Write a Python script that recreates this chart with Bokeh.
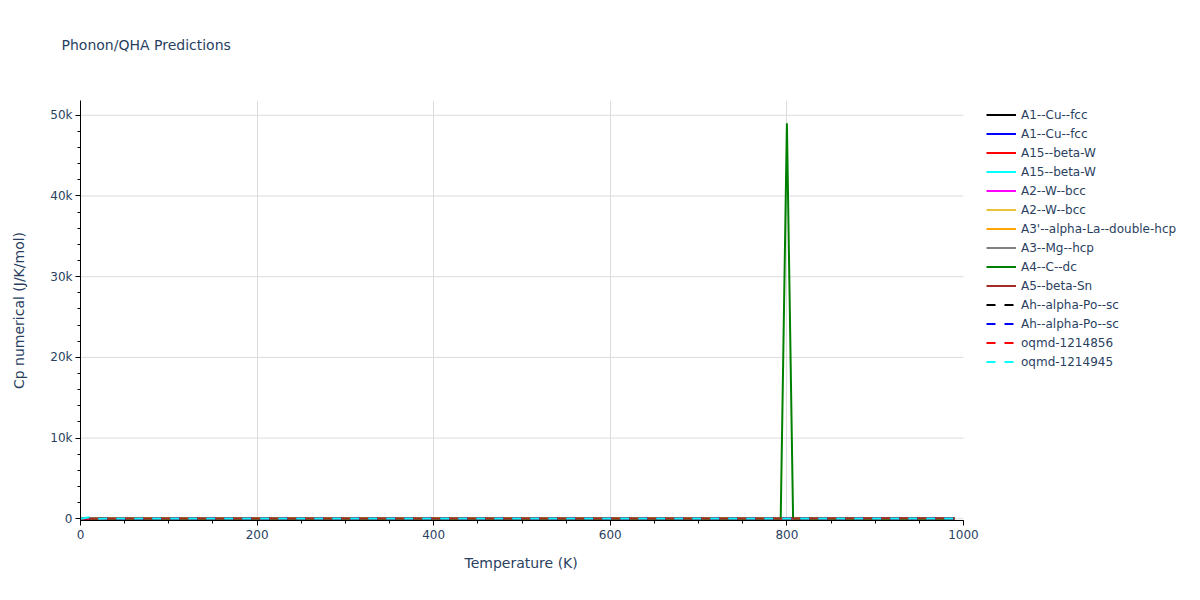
from bokeh.plotting import figure
from bokeh.models import FixedTicker, Legend, LegendItem, Range1d, Title
from bokeh.embed import file_html
from bokeh.resources import INLINE

# ---------------- data ----------------
temperature = [0, 10, 20, 50, 100, 200, 300, 400, 500, 600, 700, 793, 800, 807, 900, 990]

series_names = [
    "A1--Cu--fcc", "A1--Cu--fcc", "A15--beta-W", "A15--beta-W",
    "A2--W--bcc", "A2--W--bcc", "A3'--alpha-La--double-hcp", "A3--Mg--hcp",
    "A4--C--dc", "A5--beta-Sn", "Ah--alpha-Po--sc", "Ah--alpha-Po--sc",
    "oqmd-1214856", "oqmd-1214945",
]
series_colors = [
    "black", "blue", "red", "cyan", "magenta", "#E8C23A", "orange", "gray",
    "green", "brown", "black", "blue", "red", "cyan",
]
series_dash = ["solid"] * 10 + ["9 9"] * 4

cp_a1_cu_1 = [0, 0.5, 3.0, 15.0, 20.5, 23.9, 24.6, 25.0, 25.3, 25.6, 25.9, 26.1, 26.2, 26.2, 26.4, 26.7]
cp_a1_cu_2 = [0, 0.6, 3.2, 15.3, 20.7, 24.0, 24.7, 25.1, 25.4, 25.7, 26.0, 26.2, 26.3, 26.3, 26.5, 26.8]
cp_a15_w_1 = [0, 1.0, 7.5, 45.0, 80.0, 95.0, 98.0, 99.0, 100.0, 100.5, 101.0, 101.5, 101.5, 101.5, 102.0, 102.5]
cp_a15_w_2 = [0, 1.1, 7.8, 45.5, 80.5, 95.3, 98.3, 99.3, 100.2, 100.7, 101.2, 101.6, 101.7, 101.7, 102.2, 102.7]
cp_a2_w_1 = [0, 0.3, 2.0, 11.0, 19.5, 23.8, 24.6, 25.0, 25.3, 25.6, 25.9, 26.1, 26.2, 26.2, 26.4, 26.6]
cp_a2_w_2 = [0, 0.3, 2.1, 11.2, 19.6, 23.9, 24.7, 25.1, 25.4, 25.7, 26.0, 26.2, 26.3, 26.3, 26.5, 26.7]
cp_a3p_la = [0, 8.0, 35.0, 85.0, 97.0, 100.0, 101.0, 102.0, 102.5, 103.0, 103.5, 104.0, 104.0, 104.0, 104.5, 105.0]
cp_a3_mg = [0, 0.4, 3.5, 24.0, 40.0, 47.5, 49.0, 50.0, 50.6, 51.2, 51.7, 52.1, 52.2, 52.2, 52.6, 53.0]
cp_a4_c = [0, 0.0, 0.0, 0.1, 0.5, 4.0, 9.0, 13.0, 16.0, 18.0, 19.5, 20.3, 49000.0, 20.8, 21.5, 22.0]
cp_a5_sn = [0, 3.0, 16.0, 42.0, 48.0, 50.0, 50.8, 51.3, 51.8, 52.2, 52.6, 53.0, 53.0, 53.0, 53.4, 53.8]
cp_ah_po_1 = [0, 2.0, 9.0, 20.0, 23.5, 24.7, 25.0, 25.3, 25.6, 25.9, 26.1, 26.3, 26.3, 26.3, 26.5, 26.7]
cp_ah_po_2 = [0, 2.1, 9.2, 20.2, 23.6, 24.8, 25.1, 25.4, 25.7, 26.0, 26.2, 26.4, 26.4, 26.4, 26.6, 26.8]
cp_oqmd_1214856 = [0, 1.5, 10.0, 35.0, 45.0, 48.0, 49.5, 50.3, 50.8, 51.2, 51.5, 51.8, 51.8, 51.9, 52.1, 52.4]
cp_oqmd_1214945 = [0, 200.0, 20.0, 36.0, 45.5, 48.5, 49.8, 50.5, 51.0, 51.4, 51.8, 52.0, 52.0, 52.1, 52.3, 52.6]

series_values = [
    cp_a1_cu_1, cp_a1_cu_2, cp_a15_w_1, cp_a15_w_2, cp_a2_w_1, cp_a2_w_2,
    cp_a3p_la, cp_a3_mg, cp_a4_c, cp_a5_sn, cp_ah_po_1, cp_ah_po_2,
    cp_oqmd_1214856, cp_oqmd_1214945,
]

x_major = [0, 200, 400, 600, 800, 1000]
x_minor = list(range(0, 1001, 50))
y_major = [0, 10000, 20000, 30000, 40000, 50000]
y_minor = list(range(0, 51001, 2000))
y_labels = {0: "0", 10000: "10k", 20000: "20k", 30000: "30k", 40000: "40k", 50000: "50k"}
x_title = "Temperature (K)"
y_title = "Cp numerical (J/K/mol)"
chart_title = "Phonon/QHA Predictions"

# ---------------- layout constants ----------------
FONT = "DejaVu Sans"
TXT = "#2a3f5f"
W, H = 1192, 592
LEFT, TOP, BOTTOM = 80, 100, 72
PLOT_W = 883                      # width of the axis area (0..1000 K)
X_LO, X_HI = 0, 1000
Y_LO, Y_HI = -210, 51830
FRAME_W = W - LEFT                # frame extends to the right so the legend fits inside it
X_VIEW_HI = X_LO + (X_HI - X_LO) * FRAME_W / PLOT_W

p = figure(
    width=W, height=H, output_backend="svg", toolbar_location=None,
    x_range=Range1d(X_LO, X_VIEW_HI), y_range=Range1d(Y_LO, Y_HI),
    min_border_left=LEFT, min_border_right=0, min_border_top=TOP, min_border_bottom=BOTTOM,
)
p.outline_line_color = None
p.background_fill_color = "white"
p.border_fill_color = "white"

# spacer between the frame and the chart title, then the title itself
title_gap = Title(text=" ", standoff=30, text_font=FONT, text_font_size="14px",
                  text_color=TXT)
p.add_layout(title_gap, "above")
main_title = Title(text=chart_title, align="left", offset=-19, standoff=0,
                   vertical_align="bottom", text_font=FONT, text_font_size="14px",
                   text_font_style="normal", text_color=TXT)
p.add_layout(main_title, "above")

# grid lines, limited to the axis area
p.xgrid[0].ticker = FixedTicker(ticks=x_major[:-1])
p.xgrid[0].grid_line_color = "#dcdcdc"
p.xgrid[0].grid_line_width = 1
p.ygrid[0].grid_line_color = None
p.segment(x0=[X_LO] * len(y_major), x1=[X_HI] * len(y_major), y0=y_major, y1=y_major,
          line_color="#dcdcdc", line_width=1)

items = []
for name, color, dash, vals in zip(series_names, series_colors, series_dash, series_values):
    r = p.line(temperature, vals, line_color=color, line_width=2, line_dash=dash)
    items.append(LegendItem(label=name, renderers=[r]))

legend = Legend(items=items, location=(906, 149))
legend.padding = 0
legend.margin = 0
legend.spacing = 0
legend.label_height = 19
legend.glyph_height = 19
legend.glyph_width = 30
legend.label_standoff = 5
legend.label_text_font = FONT
legend.label_text_font_size = "12px"
legend.label_text_color = TXT
legend.border_line_color = None
legend.background_fill_alpha = 0
p.add_layout(legend, "center")

for ax in (p.xaxis[0], p.yaxis[0]):
    ax.axis_line_color = "black"
    ax.axis_line_width = 1
    ax.major_tick_line_color = "black"
    ax.minor_tick_line_color = "black"
    ax.major_tick_out = 5
    ax.major_tick_in = 0
    ax.minor_tick_out = 3
    ax.minor_tick_in = 0
    ax.major_label_text_font = FONT
    ax.major_label_text_font_size = "12px"
    ax.major_label_text_color = TXT
    ax.axis_label_text_font = FONT
    ax.axis_label_text_font_size = "14px"
    ax.axis_label_text_font_style = "normal"
    ax.axis_label_text_color = TXT

p.xaxis[0].ticker = FixedTicker(ticks=x_major, minor_ticks=x_minor)
p.xaxis[0].bounds = (X_LO, X_HI)
p.xaxis[0].major_label_standoff = 4
p.yaxis[0].ticker = FixedTicker(ticks=y_major, minor_ticks=y_minor)
p.yaxis[0].major_label_overrides = y_labels
p.yaxis[0].axis_label = y_title
p.yaxis[0].major_label_standoff = 3
p.yaxis[0].axis_label_standoff = 20

# x-axis title, centred under the 0..1000 K axis (not under the wider frame)
xt = Title(text=x_title, align="left", vertical_align="top", offset=384, standoff=27,
           text_font=FONT, text_font_size="14px", text_font_style="normal", text_color=TXT)
p.add_layout(xt, "below")

open("out.html", "w").write(file_html(p, INLINE))
